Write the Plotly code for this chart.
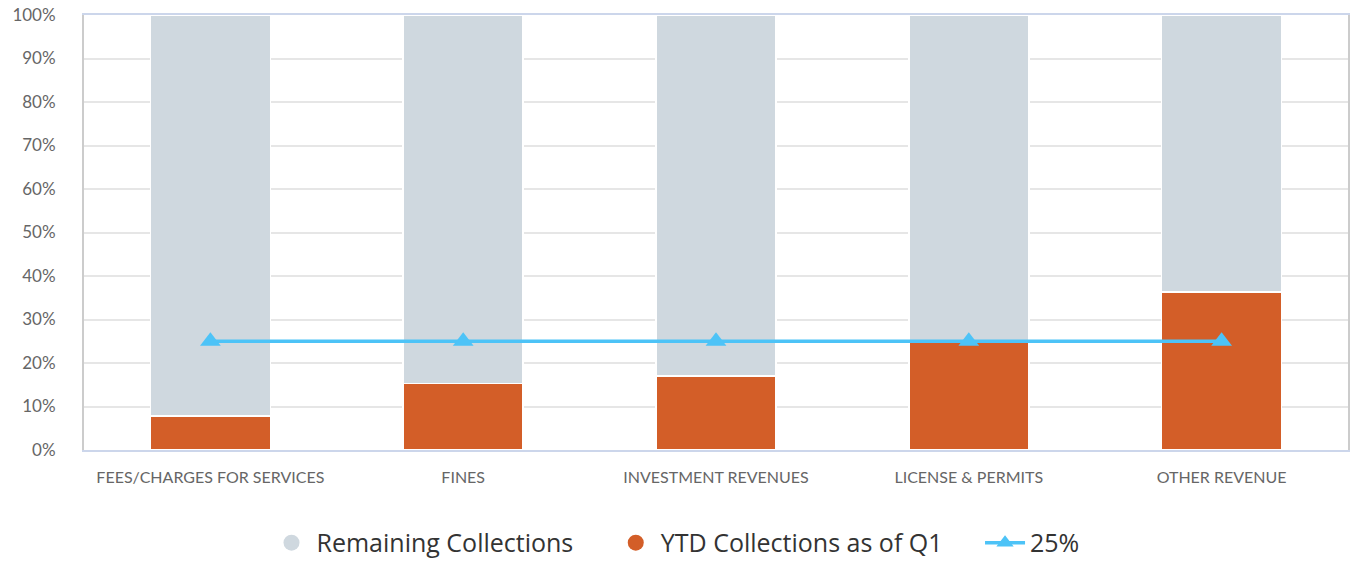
import plotly.graph_objects as go

categories = ["FEES/CHARGES FOR SERVICES", "FINES", "INVESTMENT REVENUES", "LICENSE & PERMITS", "OTHER REVENUE"]
ytd = [7.8, 15.3, 17.0, 24.8, 36.3]
remaining = [round(100 - v, 1) for v in ytd]
target = [25, 25, 25, 25, 25]

GREY = "#cfd8df"
ORANGE = "#d35e28"
BLUE = "#4dc3f7"
PAD = "\u00a0" * 5

fig = go.Figure()
fig.add_trace(go.Bar(x=categories, y=ytd, name="YTD Collections as of Q1", marker=dict(color=ORANGE, line=dict(color="white", width=1.5)), showlegend=False))
fig.add_trace(go.Bar(x=categories, y=remaining, name="Remaining Collections", marker=dict(color=GREY, line=dict(color="white", width=1.5)), showlegend=False))
fig.add_trace(go.Scatter(x=categories, y=target, mode="lines+markers", name="25%",
                         line=dict(color=BLUE, width=3.5), marker=dict(symbol="triangle-up", size=18, color=BLUE),
                         showlegend=False))
# legend entries
fig.add_trace(go.Scatter(x=[None], y=[None], mode="markers", name="Remaining Collections" + PAD,
                         marker=dict(symbol="circle", size=24, color=GREY)))
fig.add_trace(go.Scatter(x=[None], y=[None], mode="markers", name="YTD Collections as of Q1" + PAD,
                         marker=dict(symbol="circle", size=24, color=ORANGE)))
fig.add_trace(go.Scatter(x=[None], y=[None], mode="lines+markers", name="25%",
                         line=dict(color=BLUE, width=3.5), marker=dict(symbol="triangle-up", size=15, color=BLUE)))

fig.update_layout(
    barmode="stack",
    bargap=0.525,
    width=1351, height=562,
    margin=dict(l=84, r=3, t=15, b=112, autoexpand=False),
    plot_bgcolor="white", paper_bgcolor="white",
    font=dict(family="Open Sans, Lato, sans-serif", color="#666666"),
    xaxis=dict(showline=True, linecolor="#ccd6eb", linewidth=2, mirror=True, tickfont=dict(size=16, color="#666666", family="Lato, sans-serif"),
               ticks="", showgrid=False, automargin=False, ticklabelstandoff=12),
    yaxis=dict(range=[0, 100], dtick=10, ticksuffix="%", showgrid=True, gridcolor="#e6e6e6", gridwidth=2,
               showline=True, linecolor="#cccccc", linewidth=2, mirror=True, zeroline=False, automargin=False,
               tickfont=dict(size=17, color="#666666", family="Lato, sans-serif"), ticklabelstandoff=23),
    legend=dict(orientation="h", xref="container", x=0.5, xanchor="center",
                yref="container", y=0.034, yanchor="middle",
                font=dict(size=25, color="#333333", family="Open Sans, sans-serif"),
                itemsizing="trace", traceorder="normal", itemwidth=40),
)

fig.write_html("out.html", config={"displayModeBar": False},
               post_script="document.body.style.margin='0';document.body.style.overflow='hidden';")
